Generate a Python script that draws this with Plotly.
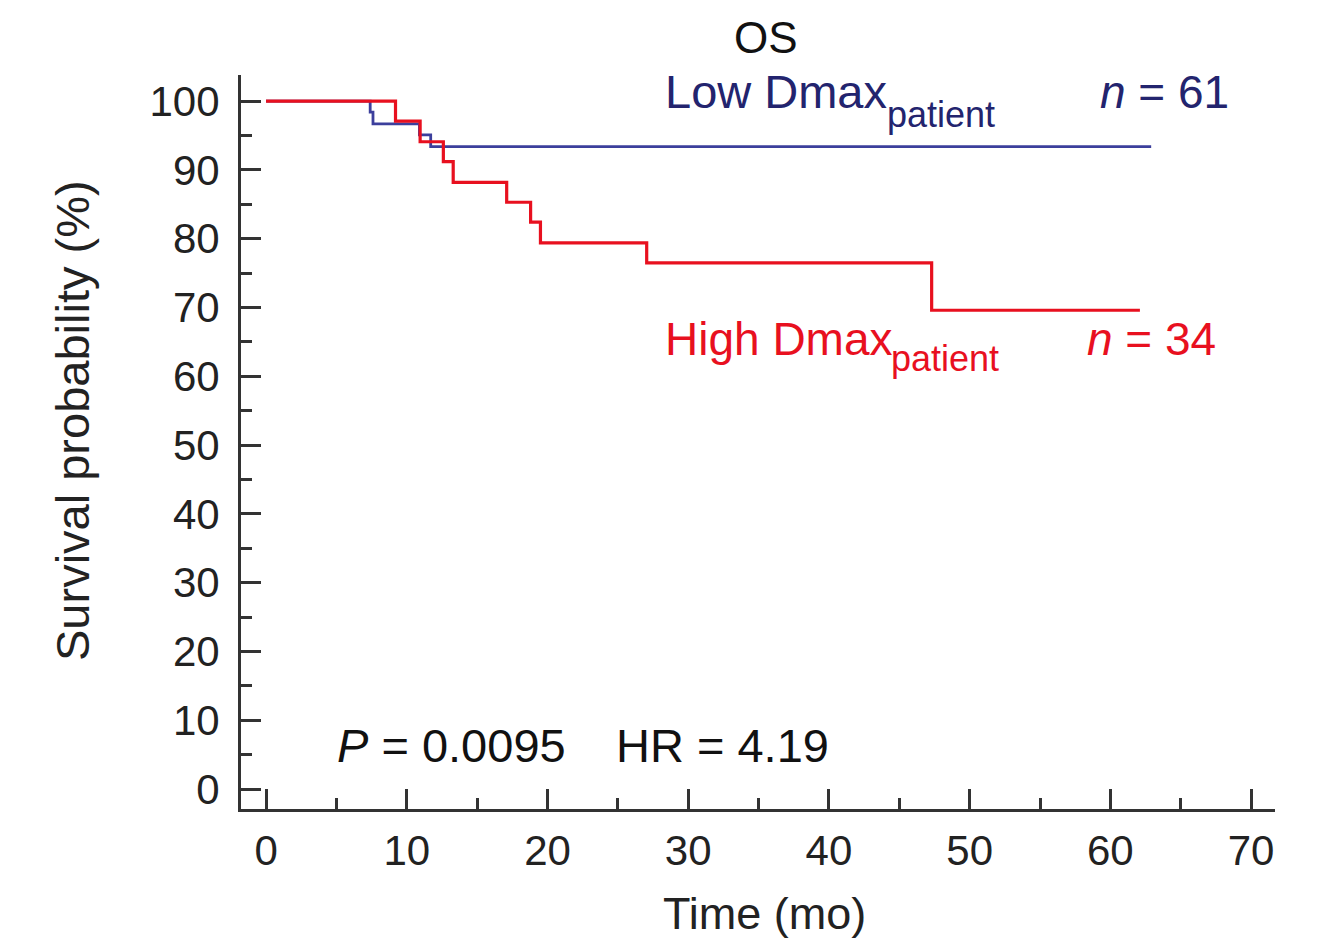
import plotly.graph_objects as go

# ---- data ----
low_time = [0, 7.4, 7.6, 10.9, 11.7, 62.9]
low_surv = [100, 98.4, 96.7, 95.1, 93.4, 93.4]
high_time = [0, 9.2, 10.95, 12.6, 13.3, 17.1, 18.8, 19.5, 27.05, 47.3, 62.1]
high_surv = [100, 97.1, 94.1, 91.2, 88.2, 85.3, 82.4, 79.4, 76.5, 69.6, 69.6]
x_ticks = [0, 10, 20, 30, 40, 50, 60, 70]
y_ticks = [0, 10, 20, 30, 40, 50, 60, 70, 80, 90, 100]

W, H = 1322, 942
L, R, T, B = 241, 1275, 75, 809

BLUE_LINE = "#3c3f9c"
BLUE_TEXT = "#23246e"
RED = "#e8101f"
AX = "#333333"
FONT = "Liberation Sans, Arial, sans-serif"


def px(xp):
    return (xp - L) / (R - L)


def py(yp):
    return (B - yp) / (B - T)


fig = go.Figure()
fig.add_trace(go.Scatter(x=low_time, y=low_surv, mode="lines", line_shape="hv",
                         line=dict(color=BLUE_LINE, width=2.8), showlegend=False))
fig.add_trace(go.Scatter(x=high_time, y=high_surv, mode="lines", line_shape="hv",
                         line=dict(color=RED, width=3.2), showlegend=False))

axis_common = dict(showgrid=False, zeroline=False, showline=True, linecolor=AX, linewidth=3,
                   ticks="inside", ticklen=20, tickwidth=2.5, tickcolor=AX,
                   tickfont=dict(family=FONT, size=42, color="#222222"))

fig.update_xaxes(range=[-1.78, 71.7], tickvals=x_ticks, ticklabelstandoff=3,
                 minor=dict(ticks="inside", ticklen=11, tickwidth=2.5, tickcolor=AX, dtick=5, tick0=0),
                 **axis_common)
fig.update_yaxes(range=[-2.9, 103.8], tickvals=y_ticks, ticklabelstandoff=10,
                 minor=dict(ticks="inside", ticklen=11, tickwidth=2.5, tickcolor=AX, dtick=5, tick0=0),
                 **axis_common)


def ann(text, xp, yp_base, size, color, xanchor="left"):
    # yp_base: baseline in pixels -> convert to middle of text box
    mid = yp_base - 0.35 * size
    fig.add_annotation(text=text, x=px(xp), y=py(mid), xref="paper", yref="paper",
                       xanchor=xanchor, yanchor="middle", showarrow=False,
                       font=dict(family=FONT, size=size, color=color))


ann("OS", 766, 53, 44, "#111111", xanchor="center")
ann("Low Dmax", 663, 108, 47, BLUE_TEXT, xanchor="left")
ann("patient", 885, 127, 36, BLUE_TEXT, xanchor="left")
ann("<i>n</i> = 61", 1098, 108, 46, BLUE_TEXT, xanchor="left")
ann("High Dmax", 663, 355, 46, RED, xanchor="left")
ann("patient", 889, 371, 36, RED, xanchor="left")
ann("<i>n</i> = 34", 1085, 355, 46, RED, xanchor="left")
ann("<i>P</i> = 0.0095", 335, 762, 47, "#111111", xanchor="left")
ann("HR = 4.19", 614, 762, 47, "#111111", xanchor="left")
ann("Time (mo)", 764, 929, 45, "#222222", xanchor="center")

fig.add_annotation(text="Survival probability (%)", x=px(72), y=py(421), xref="paper", yref="paper",
                   xanchor="center", yanchor="middle", showarrow=False, textangle=-90,
                   font=dict(family=FONT, size=47, color="#222222"))

fig.update_layout(width=W, height=H, margin=dict(l=L, r=W - R, t=T, b=H - B),
                  plot_bgcolor="white", paper_bgcolor="white", showlegend=False)

fig.write_html("out.html")
